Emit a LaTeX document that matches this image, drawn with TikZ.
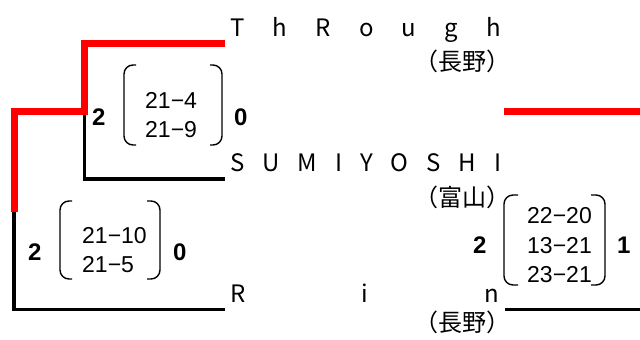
\documentclass[tikz,border=0pt]{standalone}
\usepackage{fontspec}
\newfontfamily\jp{Noto Sans CJK JP}
\newfontfamily\ls{Liberation Sans}
\begin{document}
\begin{tikzpicture}[x=1pt,y=-1pt,
  team/.style={anchor=base west,inner sep=0pt,font=\jp\fontsize{24}{28}\selectfont},
  pref/.style={anchor=base east,inner sep=0pt,font=\jp\fontsize{24}{28}\selectfont},
  score/.style={anchor=base west,inner sep=0pt,font=\ls\fontsize{23}{28}\selectfont},
  games/.style={anchor=base west,inner sep=0pt,font=\ls\bfseries\fontsize{24}{28}\selectfont},
  win/.style={draw=red,line width=7pt,line join=miter},
  lose/.style={draw=black,line width=3.5pt,line join=miter},
  brk/.style={draw=black,line width=1.4pt,rounded corners=9pt}]
\useasboundingbox (0,0) rectangle (640,340);

% team names
\node[team] (t1) at (230,36) {\makebox[271pt][s]{T h R o u g h}};
\node[pref] (p1) at (511,70) {（長野）};
\node[team] (t2) at (230,171) {\makebox[271pt][s]{S U M I Y O S H I}};
\node[pref] (p2) at (511,206) {（富山）};
\node[team] (t3) at (230,302) {\makebox[269pt][s]{R i n}};
\node[pref] (p3) at (511,331) {（長野）};

% bracket coordinates
\coordinate (a1) at (225,43.5);
\coordinate (a2) at (84.5,43.5);
\coordinate (a3) at (84.5,115);
\coordinate (b1) at (84.5,179);
\coordinate (b2) at (225,179);
\coordinate (c1) at (88,111.5);
\coordinate (c2) at (14,111.5);
\coordinate (c3) at (14,212);
\coordinate (d1) at (14,309.5);
\coordinate (d2) at (225,309.5);
\coordinate (e1) at (504,111.5);
\coordinate (e2) at (640,111.5);
\coordinate (f1) at (505,309.5);
\coordinate (f2) at (640,309.5);

\draw[lose] (a3) -- (b1) -- (b2);
\draw[lose] (c3) -- (d1) -- (d2);
\draw[lose] (f1) -- (f2);
\draw[win] (a1) -- (a2) -- (a3);
\draw[win] (c1) -- (c2) -- (c3);
\draw[win] (e1) -- (e2);

% match 1
\node[games] (g1a) at (92,125) {2};
\node[games] (g1b) at (234,125) {0};
\draw[brk] (136,65) -- (124,65) -- (124,145) -- (136,145);
\draw[brk] (210,65) -- (222,65) -- (222,145) -- (210,145);
\node[score] (s1a) at (145,108) {21−4};
\node[score] (s1b) at (145,137) {21−9};

% match 2
\node[games] (g2a) at (28,260) {2};
\node[games] (g2b) at (173,260) {0};
\draw[brk] (72,201) -- (60,201) -- (60,279) -- (72,279);
\draw[brk] (147,201) -- (160,201) -- (160,279) -- (147,279);
\node[score] (s2a) at (82,243) {21−10};
\node[score] (s2b) at (82,272) {21−5};

% final
\node[games] (g3a) at (473,253) {2};
\node[games] (g3b) at (617,253) {1};
\draw[brk] (518,195) -- (504,195) -- (504,285) -- (518,285);
\draw[brk] (591,195) -- (605,195) -- (605,285) -- (591,285);
\node[score] (s3a) at (527,223) {22−20};
\node[score] (s3b) at (527,253) {13−21};
\node[score] (s3c) at (527,282) {23−21};
\end{tikzpicture}
\end{document}
